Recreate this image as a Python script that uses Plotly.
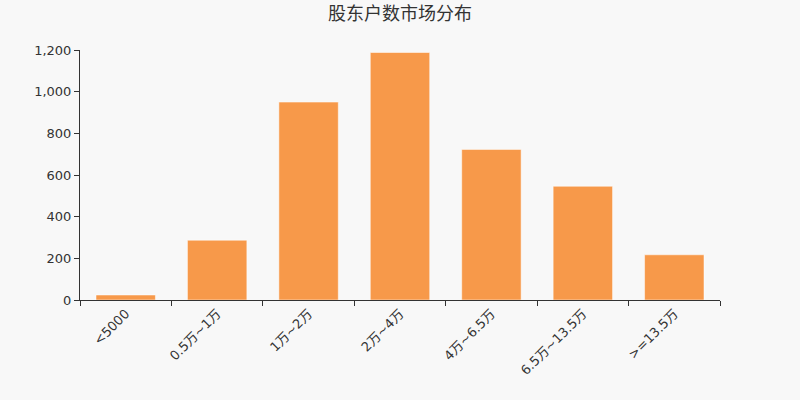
import plotly.graph_objects as go

# 股东户数区间 & 对应公司数量
categories = ["<5000", "0.5万~1万", "1万~2万", "2万~4万", "4万~6.5万", "6.5万~13.5万", ">=13.5万"]
counts = [24, 287, 950, 1188, 723, 546, 217]

BAR_COLOR = "#F7994A"
BG = "#F8F8F8"
FONT = "DejaVu Sans, Noto Sans CJK SC, sans-serif"

fig = go.Figure()
fig.add_trace(go.Bar(
    x=categories,
    y=counts,
    marker=dict(color=BAR_COLOR, line=dict(color="rgba(255,255,255,0.5)", width=1)),
    hovertemplate="%{x}: %{y}<extra></extra>",
))

fig.update_layout(
    width=800, height=400,
    title=dict(text="股东户数市场分布", x=0.5, y=0.965, xanchor="center", yanchor="middle",
               font=dict(size=18, color="#333", family=FONT)),
    paper_bgcolor=BG, plot_bgcolor=BG,
    margin=dict(l=80, r=80, t=50, b=100),
    bargap=0.35,
    showlegend=False,
    font=dict(family=FONT, size=13, color="#333"),
)
fig.update_xaxes(
    type="category", tickangle=-45, tickson="boundaries",
    showline=True, linecolor="#333", linewidth=1,
    ticks="outside", ticklen=5, tickcolor="#333",
    showgrid=False, tickfont=dict(size=13, color="#333"),
)
fig.update_yaxes(
    range=[0, 1200], dtick=200, tickformat=",",
    showline=True, linecolor="#333", linewidth=1,
    ticks="outside", ticklen=5, tickcolor="#333",
    showgrid=False, zeroline=False, tickfont=dict(size=13, color="#333"),
)

# remove default page margin so the chart fills the window
fig.write_html(
    "out.html",
    config={"displayModeBar": False},
    post_script="document.body.style.margin='0';document.body.style.background='%s';" % BG,
)
